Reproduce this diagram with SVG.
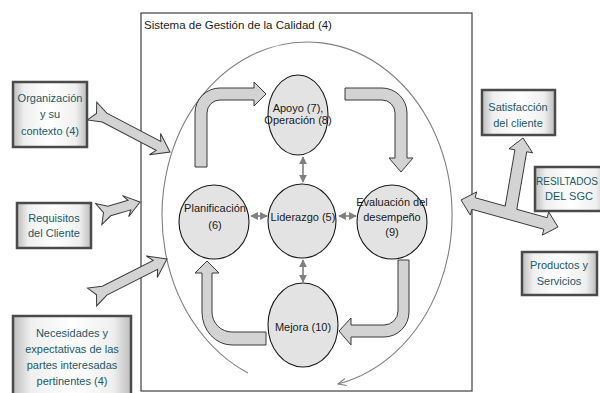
<svg xmlns="http://www.w3.org/2000/svg" width="600" height="393" viewBox="0 0 600 393">
<defs>
<style>
.frame{fill:none;stroke:#404040;stroke-width:1.2}
.ring{fill:none;stroke:#808080;stroke-width:1.1}
.node{fill:#e3e3e3;stroke:#1a1a1a;stroke-width:1.1}
.blk{fill:#d3d3d3;stroke:#3a3a3a;stroke-width:1}
.lnk{fill:none;stroke:#7f7f7f;stroke-width:1.6}
.box{fill:url(#bg);stroke:#4a4a4a;stroke-width:2.5}
.t{font-family:"Liberation Sans",Arial,sans-serif;font-size:11px;fill:#1a1a1a;text-anchor:middle}
.bt{font-family:"Liberation Sans",Arial,sans-serif;font-size:11px;fill:#215868;text-anchor:middle}
.title{font-family:"Liberation Sans",Arial,sans-serif;font-size:11.5px;fill:#1a1a1a}
</style>
<linearGradient id="bg" x1="0" y1="0" x2="1" y2="0">
<stop offset="0" stop-color="#bdbdbd"/>
<stop offset="0.15" stop-color="#efefef"/>
<stop offset="0.5" stop-color="#ffffff"/>
<stop offset="0.85" stop-color="#efefef"/>
<stop offset="1" stop-color="#bdbdbd"/>
</linearGradient>
<marker id="ah" viewBox="0 0 10 10" refX="9" refY="5" markerWidth="5" markerHeight="5" orient="auto-start-reverse" markerUnits="strokeWidth">
<path d="M0,0 L10,5 L0,10 Z" fill="#7f7f7f"/>
</marker>
<marker id="ring-ah" viewBox="0 0 10 10" refX="9" refY="5" markerWidth="9" markerHeight="9" orient="auto" markerUnits="userSpaceOnUse">
<path d="M0,1 L9,5 L0,9" fill="none" stroke="#808080" stroke-width="1.2"/>
</marker>
</defs>

<rect class="frame" x="141" y="13" width="331" height="378"/>
<text class="title" x="144" y="29">Sistema de Gestión de la Calidad (4)</text>
<path class="ring" d="M248,373 A145,173 0 1 1 338,384" marker-end="url(#ring-ah)"/>

<g id="connectors">
<path class="blk" d="M195,167 L195,113 A25,25 0 0 1 220,88 L254,88 L254,82 L266,94 L254,106 L254,100 L220,100 A13,13 0 0 0 207,113 L207,167 Z"/>
<path class="blk" d="M345,88 L382,88 A25,25 0 0 1 407,113 L407,158 L413,158 L401,172 L389,158 L395,158 L395,113 A13,13 0 0 0 382,100 L345,100 Z"/>
<path class="blk" d="M398,260 L409,260 L409,312 A25,25 0 0 1 384,337 L351,337 L351,345 L339,331 L351,318 L351,325 L384,325 A14,14 0 0 0 398,311 Z"/>
<path class="blk" d="M266,332 L232,332 A20,20 0 0 1 212,312 L212,273 L219,273 L207,261 L195,273 L202,273 L202,312 A30,33 0 0 0 232,345 L266,345 Z"/>
<line class="lnk" x1="303" y1="157" x2="303" y2="182" marker-start="url(#ah)" marker-end="url(#ah)"/>
<line class="lnk" x1="251" y1="216" x2="267" y2="216" marker-start="url(#ah)" marker-end="url(#ah)"/>
<line class="lnk" x1="339" y1="216" x2="356" y2="216" marker-start="url(#ah)" marker-end="url(#ah)"/>
<line class="lnk" x1="303" y1="260" x2="303" y2="282" marker-start="url(#ah)" marker-end="url(#ah)"/>
<path class="blk" transform="translate(170,152) rotate(27.7)" d="M0,0 L-17,-12 L-13,-5 L-74,-5 L-88,-10 L-83,0 L-88,10 L-74,5 L-13,5 L-17,12 Z"/>
<path class="blk" transform="translate(140,202) rotate(-16.3)" d="M0,0 L-15,-11 L-11,-5 L-32,-5 L-43,-11 L-38,0 L-43,11 L-32,5 L-11,5 L-15,11 Z"/>
<path class="blk" transform="translate(167,259) rotate(-26.9)" d="M0,0 L-17,-12 L-13,-5 L-70,-5 L-84,-10 L-79,0 L-84,10 L-70,5 L-13,5 L-17,12 Z"/>
<path class="blk" d="M461,200 L476.7,191.9 L475.1,197.7 L505.2,206.1 L514.9,149.8 L509,148.8 L523,138 L532.6,152.8 L526.7,151.8 L516.8,209.3 L547.1,217.7 L548.7,211.9 L558,227 L542.3,235.1 L543.9,229.3 L471.9,209.3 L470.3,215.1 Z"/>
</g>

<g id="apoyo"><ellipse class="node" cx="298" cy="115" rx="30" ry="40"/>
<text class="t" x="298" y="112">Apoyo (7),</text><text class="t" x="298" y="124">Operación (8)</text></g>
<g id="planificacion"><ellipse class="node" cx="214" cy="222" rx="35" ry="37"/>
<text class="t" x="215" y="212">Planificación</text><text class="t" x="215" y="229">(6)</text></g>
<g id="liderazgo"><ellipse class="node" cx="302" cy="221" rx="34" ry="37"/>
<text class="t" x="303" y="221">Liderazgo (5)</text></g>
<g id="evaluacion"><ellipse class="node" cx="392" cy="222" rx="35" ry="37"/>
<text class="t" x="392" y="206">Evaluación del</text><text class="t" x="392" y="221">desempeño</text><text class="t" x="392" y="236">(9)</text></g>
<g id="mejora"><ellipse class="node" cx="303" cy="325" rx="35" ry="42"/>
<text class="t" x="303" y="331">Mejora (10)</text></g>

<g id="organizacion"><rect class="box" x="13" y="82" width="74" height="65"/>
<text class="bt" x="50" y="102">Organización</text><text class="bt" x="50" y="118">y su</text><text class="bt" x="50" y="135">contexto (4)</text></g>
<g id="requisitos"><rect class="box" x="17" y="203" width="74" height="45"/>
<text class="bt" x="54" y="222">Requisitos</text><text class="bt" x="54" y="237">del Cliente</text></g>
<g id="necesidades"><rect class="box" x="13" y="316" width="118" height="82"/>
<text class="bt" x="72" y="337">Necesidades y</text><text class="bt" x="72" y="353">expectativas de las</text><text class="bt" x="72" y="369">partes interesadas</text><text class="bt" x="72" y="385">pertinentes (4)</text></g>
<g id="satisfaccion"><rect class="box" x="482" y="90" width="73" height="45"/>
<text class="bt" x="518" y="111">Satisfacción</text><text class="bt" x="518" y="127">del cliente</text></g>
<g id="resultados"><rect class="box" x="535" y="167" width="72" height="44"/>
<text class="bt" x="567" y="185" style="font-size:10px">RESILTADOS</text><text class="bt" x="569" y="200">DEL SGC</text></g>
<g id="productos"><rect class="box" x="522" y="252" width="75" height="43"/>
<text class="bt" x="559" y="269">Productos y</text><text class="bt" x="559" y="285">Servicios</text></g>
</svg>
